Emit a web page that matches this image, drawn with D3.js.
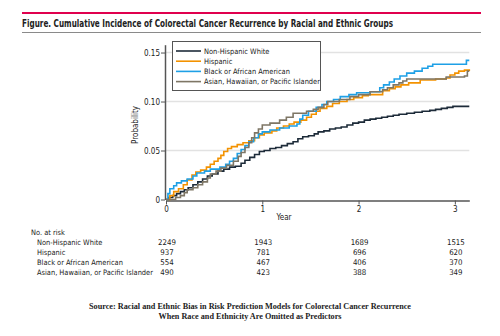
<!DOCTYPE html>
<html>
<head>
<meta charset="utf-8">
<script src="https://cdn.jsdelivr.net/npm/d3@7"></script>
<style>
  body { margin: 0; background: #fff; }
  svg { display: block; }
  text { font-family: "Liberation Sans Narrow", "DejaVu Sans Condensed", "Open Sans", sans-serif; fill: #222; }
</style>
</head>
<body>
<div id="chart"></div>
<script>
var width = 500;
var height = 336;

var groups = ["Non-Hispanic White", "Hispanic", "Black or African American", "Asian, Hawaiian, or Pacific Islander"];
var colors = ["#1d2b39", "#f39200", "#1ea0e6", "#7e7665"];

// cumulative incidence, [year, probability]
var white = [[0,0],[0.03,0.002],[0.07,0.004],[0.11,0.006],[0.15,0.008],[0.19,0.010],[0.23,0.012],[0.28,0.015],[0.33,0.018],[0.38,0.021],[0.43,0.024],[0.48,0.026],[0.54,0.029],[0.60,0.031],[0.66,0.033],[0.72,0.034],[0.78,0.037],[0.82,0.040],[0.87,0.043],[0.92,0.046],[0.97,0.049],[1.02,0.050],[1.08,0.052],[1.14,0.053],[1.20,0.055],[1.26,0.057],[1.32,0.059],[1.37,0.062],[1.42,0.064],[1.48,0.065],[1.54,0.067],[1.58,0.069],[1.64,0.070],[1.70,0.072],[1.76,0.073],[1.82,0.074],[1.88,0.076],[1.94,0.078],[2.00,0.079],[2.06,0.081],[2.12,0.082],[2.18,0.083],[2.24,0.084],[2.30,0.085],[2.36,0.086],[2.42,0.087],[2.50,0.088],[2.58,0.089],[2.66,0.090],[2.74,0.091],[2.80,0.092],[2.86,0.093],[2.92,0.094],[2.98,0.095],[3.15,0.095]];
var hispanic = [[0,0],[0.04,0.004],[0.08,0.008],[0.13,0.011],[0.18,0.015],[0.22,0.020],[0.27,0.025],[0.31,0.028],[0.36,0.030],[0.42,0.033],[0.46,0.036],[0.50,0.039],[0.54,0.042],[0.57,0.045],[0.60,0.049],[0.64,0.052],[0.68,0.054],[0.74,0.056],[0.80,0.058],[0.86,0.060],[0.92,0.063],[0.97,0.066],[1.02,0.068],[1.10,0.070],[1.15,0.073],[1.22,0.075],[1.28,0.077],[1.33,0.079],[1.40,0.081],[1.46,0.084],[1.51,0.087],[1.56,0.090],[1.60,0.093],[1.67,0.095],[1.73,0.098],[1.80,0.100],[1.88,0.102],[1.95,0.104],[2.04,0.106],[2.10,0.107],[2.25,0.111],[2.32,0.113],[2.38,0.115],[2.44,0.117],[2.52,0.119],[2.64,0.122],[2.80,0.123],[2.91,0.124],[2.95,0.127],[3.00,0.129],[3.04,0.131],[3.10,0.132],[3.15,0.133]];
var black = [[0,0],[0.02,0.006],[0.04,0.011],[0.08,0.014],[0.11,0.017],[0.16,0.019],[0.22,0.021],[0.28,0.024],[0.32,0.027],[0.40,0.029],[0.46,0.031],[0.56,0.033],[0.62,0.036],[0.66,0.039],[0.70,0.042],[0.74,0.047],[0.78,0.051],[0.82,0.055],[0.86,0.059],[0.91,0.063],[0.96,0.067],[1.00,0.069],[1.08,0.071],[1.18,0.073],[1.28,0.075],[1.36,0.077],[1.39,0.082],[1.42,0.086],[1.48,0.090],[1.56,0.094],[1.62,0.097],[1.67,0.100],[1.74,0.102],[1.81,0.105],[1.90,0.107],[1.98,0.109],[2.12,0.110],[2.22,0.114],[2.26,0.117],[2.32,0.120],[2.37,0.123],[2.43,0.126],[2.50,0.129],[2.58,0.131],[2.66,0.134],[2.72,0.136],[2.77,0.138],[3.08,0.138],[3.12,0.142],[3.15,0.142]];
var asian = [[0,0],[0.10,0.002],[0.15,0.004],[0.19,0.007],[0.22,0.010],[0.28,0.012],[0.33,0.015],[0.38,0.018],[0.43,0.022],[0.46,0.026],[0.52,0.029],[0.57,0.032],[0.63,0.035],[0.70,0.039],[0.75,0.044],[0.78,0.048],[0.82,0.053],[0.86,0.058],[0.89,0.063],[0.92,0.068],[0.96,0.072],[1.00,0.076],[1.08,0.078],[1.18,0.081],[1.25,0.084],[1.32,0.088],[1.46,0.090],[1.53,0.092],[1.58,0.094],[1.64,0.097],[1.68,0.100],[1.80,0.102],[1.91,0.105],[2.00,0.107],[2.12,0.110],[2.25,0.112],[2.30,0.114],[2.36,0.117],[2.42,0.119],[2.46,0.121],[2.50,0.123],[2.91,0.125],[3.10,0.126],[3.13,0.131],[3.15,0.131]];
var series = [white, hispanic, black, asian];

var xTicks = [0, 1, 2, 3];
var yTicks = [0, 0.05, 0.10, 0.15];
var yTickLabels = ["0", "0.05", "0.10", "0.15"];
var atRisk = [
  [2249, 1943, 1689, 1515],
  [937, 781, 696, 620],
  [554, 467, 406, 370],
  [490, 423, 388, 349]
];

var fs = 7.4;

var svg = d3.select("#chart")
        .append("svg")
            .attr("width", width)
            .attr("height", height);

// header rules and title
svg.append("line").attr("x1", 22).attr("x2", 481).attr("y1", 13).attr("y2", 13)
    .attr("stroke", "#e0004e").attr("stroke-width", 2);
svg.append("text").attr("x", 22).attr("y", 27)
    .attr("font-size", 10).attr("font-weight", "bold")
    .attr("textLength", 371).attr("lengthAdjust", "spacingAndGlyphs")
    .text("Figure. Cumulative Incidence of Colorectal Cancer Recurrence by Racial and Ethnic Groups");
svg.append("line").attr("x1", 22).attr("x2", 481).attr("y1", 32.5).attr("y2", 32.5)
    .attr("stroke", "#8a8a8a").attr("stroke-width", 1);

var x = d3.scaleLinear().domain([0, 3.15]).range([166, 469.3]);
var y = d3.scaleLinear().domain([0, 0.158]).range([199.5, 44.7]);

// grid
svg.append("g").selectAll("line").data(yTicks.slice(1)).enter().append("line")
    .attr("x1", x(0)).attr("x2", x(3.15))
    .attr("y1", d => y(d)).attr("y2", d => y(d))
    .attr("stroke", "#e2e2e2").attr("stroke-width", 1.5);

// axes
var yAxis = svg.append("g").attr("transform", `translate(${x(0) - 1},0)`)
    .call(d3.axisLeft(y).tickValues(yTicks).tickFormat((d, i) => yTickLabels[i]).tickSize(4).tickSizeOuter(0));
var xAxis = svg.append("g").attr("transform", `translate(0,${y(0) + 1})`)
    .call(d3.axisBottom(x).tickValues(xTicks).tickFormat(d3.format("d")).tickSize(4).tickSizeOuter(0));
[xAxis, yAxis].forEach(function(a) {
  a.select(".domain").attr("stroke", "#555").attr("stroke-width", 1.5);
  a.selectAll(".tick line").attr("stroke", "#555");
  a.selectAll(".tick text").attr("font-size", 8).attr("fill", "#222")
    .attr("font-family", "\"Liberation Sans Narrow\", \"DejaVu Sans Condensed\", sans-serif");
});
yAxis.selectAll(".tick text").attr("x", -5);
xAxis.selectAll(".tick text").attr("y", 6);

svg.append("text").attr("x", 284).attr("y", 220).attr("text-anchor", "middle")
    .attr("font-size", 8).text("Year");
svg.append("text").attr("transform", "translate(138,125) rotate(-90)")
    .attr("text-anchor", "middle").attr("font-size", 8).text("Probability");

// curves
var line = d3.line()
    .x(d => x(d[0]))
    .y(d => y(d[1]))
    .curve(d3.curveStepAfter);

svg.append("g").selectAll("path").data(series).enter().append("path")
    .attr("d", line)
    .attr("fill", "none")
    .attr("stroke", (d, i) => colors[i])
    .attr("stroke-width", 1.6);

// legend
var lg = svg.append("g");
lg.append("rect").attr("x", 172.5).attr("y", 41.5).attr("width", 148).attr("height", 49)
    .attr("fill", "#fff").attr("stroke", "#555").attr("stroke-width", 1);
var item = lg.selectAll(".item").data(groups).enter().append("g")
    .attr("transform", (d, i) => `translate(0,${51 + i * 10.2})`);
item.append("line").attr("x1", 176).attr("x2", 201)
    .attr("stroke", (d, i) => colors[i]).attr("stroke-width", 1.6);
item.append("text").attr("x", 204).attr("dy", "0.34em").attr("font-size", fs).text(d => d);

// number at risk table
var tbl = svg.append("g");
tbl.append("text").attr("x", 31).attr("y", 234.5).attr("font-size", fs).text("No. at risk");
var rows = tbl.selectAll(".row").data(groups).enter().append("g")
    .attr("transform", (d, i) => `translate(0,${245 + i * 10})`);
rows.append("text").attr("x", 37).attr("font-size", fs).text(d => d);
rows.selectAll(".n").data((d, i) => atRisk[i]).enter().append("text")
    .attr("x", (d, j) => x(xTicks[j]) + 1).attr("text-anchor", "middle")
    .attr("font-size", 7.8).text(d => d);

// source
var src = svg.append("g");
src.append("text").attr("x", 250).attr("y", 308.5).attr("text-anchor", "middle")
    .attr("font-size", 8.2).attr("font-weight", "bold").style("font-family", "\"Liberation Serif\", serif")
    .attr("textLength", 322).attr("lengthAdjust", "spacingAndGlyphs")
    .text("Source: Racial and Ethnic Bias in Risk Prediction Models for Colorectal Cancer Recurrence");
src.append("text").attr("x", 250).attr("y", 319).attr("text-anchor", "middle")
    .attr("font-size", 8.2).attr("font-weight", "bold").style("font-family", "\"Liberation Serif\", serif")
    .attr("textLength", 183).attr("lengthAdjust", "spacingAndGlyphs")
    .text("When Race and Ethnicity Are Omitted as Predictors");
</script>
</body>
</html>
